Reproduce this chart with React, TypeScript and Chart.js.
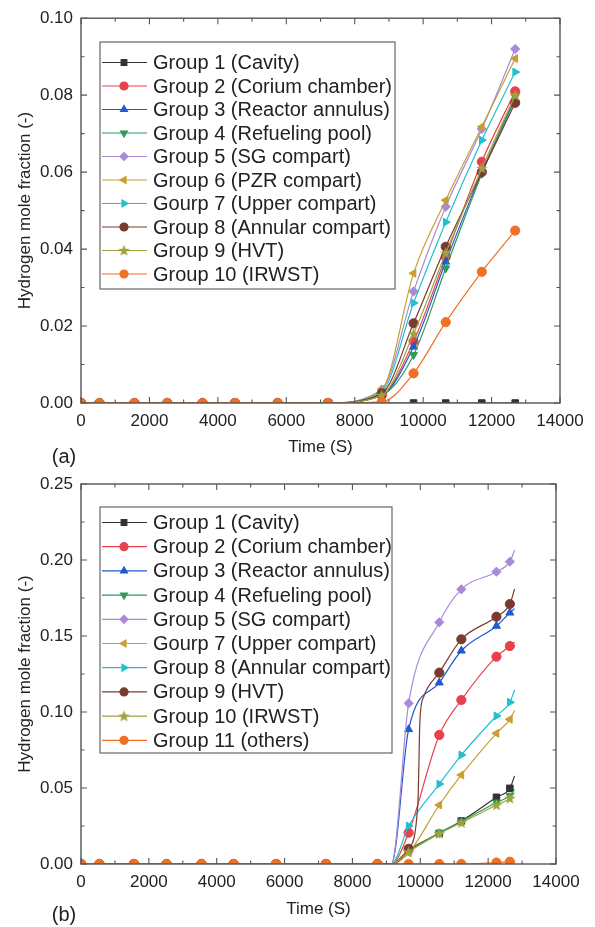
import React, { useEffect, useRef } from 'react';
import { Chart, registerables } from 'chart.js';
import { drawPoint } from 'chart.js/helpers';

Chart.register(...registerables);

const FONT = '"Liberation Sans", Arial, Helvetica, sans-serif';

// ---------- shared tick labels ----------
const xTickLabels = [0, 2000, 4000, 6000, 8000, 10000, 12000, 14000];
const yTickLabelsA = [0, 0.02, 0.04, 0.06, 0.08, 0.1];
const yTickLabelsB = [0, 0.05, 0.1, 0.15, 0.2, 0.25];

// ---------- panel (a) ----------
const namesA = [
  'Group 1 (Cavity)',
  'Group 2 (Corium chamber)',
  'Group 3 (Reactor annulus)',
  'Group 4 (Refueling pool)',
  'Group 5 (SG compart)',
  'Group 6 (PZR compart)',
  'Gourp 7 (Upper compart)',
  'Group 8 (Annular compart)',
  'Group 9 (HVT)',
  'Group 10 (IRWST)',
];
const timesA = [0, 540, 1560, 2520, 3550, 4500, 5750, 7220, 8790, 9720, 10660, 11715, 12690];
const a1 = [0, 0, 0, 0, 0, 0, 0, 0, 0, 0, 0, 0, 0];
const a2 = [0, 0, 0, 0, 0, 0, 0, 0, 0.002, 0.016, 0.038, 0.0627, 0.081];
const a3 = [0, 0, 0, 0, 0, 0, 0, 0, 0.002, 0.0146, 0.0367, 0.06, 0.079];
const a4 = [0, 0, 0, 0, 0, 0, 0, 0, 0.002, 0.0125, 0.035, 0.0596, 0.0796];
const a5 = [0, 0, 0, 0, 0, 0, 0, 0, 0.0035, 0.029, 0.051, 0.0712, 0.092];
const a6 = [0, 0, 0, 0, 0, 0, 0, 0, 0.0035, 0.0337, 0.0527, 0.0718, 0.0895];
const a7 = [0, 0, 0, 0, 0, 0, 0, 0, 0.003, 0.026, 0.047, 0.0683, 0.086];
const a8 = [0, 0, 0, 0, 0, 0, 0, 0, 0.0025, 0.0207, 0.0406, 0.06, 0.078];
const a9 = [0, 0, 0, 0, 0, 0, 0, 0, 0.002, 0.018, 0.039, 0.061, 0.08];
const a10 = [0, 0, 0, 0, 0, 0, 0, 0, 0.0003, 0.0077, 0.021, 0.0341, 0.0448];
const valuesA = [a1, a2, a3, a4, a5, a6, a7, a8, a9, a10];

// ---------- panel (b) ----------
const namesB = [
  'Group 1 (Cavity)',
  'Group 2 (Corium chamber)',
  'Group 3 (Reactor annulus)',
  'Group 4 (Refueling pool)',
  'Group 5 (SG compart)',
  'Gourp 7 (Upper compart)',
  'Group 8 (Annular compart)',
  'Group 9 (HVT)',
  'Group 10 (IRWST)',
  'Group 11 (others)',
];
const timesB = [0, 540, 1560, 2520, 3550, 4500, 5750, 7220, 8740, 9150, 9656, 10560, 11210, 12245, 12640, 12780];
const markerTimesB = [0, 540, 1560, 2520, 3550, 4500, 5750, 7220, 8740, 9656, 10560, 11210, 12245, 12640];
const b1 = [0, 0, 0, 0, 0, 0, 0, 0, 0, 0, 0.0092, 0.0202, 0.0283, 0.0439, 0.0498, 0.058];
const b2 = [0, 0, 0, 0, 0, 0, 0, 0, 0, 0, 0.0206, 0.0849, 0.1079, 0.1364, 0.1434, 0.146];
const b3 = [0, 0, 0, 0, 0, 0, 0, 0, 0, 0, 0.0886, 0.1193, 0.1403, 0.1566, 0.1653, 0.168];
const b4 = [0, 0, 0, 0, 0, 0, 0, 0, 0, 0, 0.0085, 0.0205, 0.028, 0.0405, 0.045, 0.049];
const b5 = [0, 0, 0, 0, 0, 0, 0, 0, 0, 0, 0.1057, 0.159, 0.1807, 0.1923, 0.1989, 0.2066];
const b7 = [0, 0, 0, 0, 0, 0, 0, 0, 0, 0, 0.0074, 0.0388, 0.0586, 0.086, 0.0952, 0.101];
const b8 = [0, 0, 0, 0, 0, 0, 0, 0, 0, 0, 0.025, 0.0526, 0.0717, 0.0974, 0.1064, 0.1145];
const b9 = [0, 0, 0, 0, 0, 0, 0, 0, 0, 0, 0.01, 0.1259, 0.1478, 0.1627, 0.171, 0.181];
const b10 = [0, 0, 0, 0, 0, 0, 0, 0, 0, 0, 0.008, 0.02, 0.0272, 0.0388, 0.0432, 0.047];
const b11 = [0, 0, 0, 0, 0, 0, 0, 0, 0, 0, 0, 0, 0, 0.001, 0.0015, 0.002];
// extra (unmarked) samples on the steep rise of Group 9 (HVT)
const b9ExtraTimes = [9930, 9990, 10100];
const b9ExtraValues = [0.04, 0.095, 0.11];
const valuesB = [b1, b2, b3, b4, b5, b7, b8, b9, b10, b11];

// ---------- styles ----------
const COLORS = ['#333333', '#e8404c', '#1f5ad0', '#2e9a5a', '#a98ad8', '#c8a030', '#22bfd0', '#7a3a2e', '#a0a240', '#f07024'];

function makeStar(color: string) {
  const c = document.createElement('canvas');
  c.width = 13;
  c.height = 13;
  const g = c.getContext('2d')!;
  g.fillStyle = color;
  g.beginPath();
  for (let i = 0; i < 10; i++) {
    const r = i % 2 === 0 ? 6 : 2.6;
    const a = -Math.PI / 2 + (i * Math.PI) / 5;
    const px = 6.5 + r * Math.cos(a);
    const py = 6.8 + r * Math.sin(a);
    if (i === 0) g.moveTo(px, py);
    else g.lineTo(px, py);
  }
  g.closePath();
  g.fill();
  return c;
}

type Sty = { style: any; rot: number };
function markerStyles(): Sty[] {
  return [
    { style: 'rect', rot: 0 },
    { style: 'circle', rot: 0 },
    { style: 'triangle', rot: 0 },
    { style: 'triangle', rot: 180 },
    { style: 'rectRot', rot: 0 },
    { style: 'triangle', rot: -90 },
    { style: 'triangle', rot: 90 },
    { style: 'circle', rot: 0 },
    { style: makeStar(COLORS[8]), rot: 0 },
    { style: 'circle', rot: 0 },
  ];
}

function framePlugin(xMinor: number, xMajor: number, yMinor: number, yMajor: number, panel: string, panelX: number, panelY: number) {
  return {
    id: 'frame',
    afterDatasetsDraw(chart: any) {
      const { ctx, chartArea } = chart;
      const { left, right, top, bottom } = chartArea;
      const xs = chart.scales.x;
      const ys = chart.scales.y;
      ctx.save();
      ctx.strokeStyle = '#555';
      ctx.lineWidth = 1.4;
      ctx.strokeRect(left, top, right - left, bottom - top);
      ctx.lineWidth = 1.1;
      ctx.beginPath();
      for (let t = xs.min; t <= xs.max + 1e-9; t += xMinor) {
        const px = xs.getPixelForValue(t);
        const major = Math.abs(t / xMajor - Math.round(t / xMajor)) < 1e-6;
        const len = major ? 6 : 3.5;
        ctx.moveTo(px, bottom);
        ctx.lineTo(px, bottom - len);
        ctx.moveTo(px, top);
        ctx.lineTo(px, top + len);
      }
      const steps = Math.round((ys.max - ys.min) / yMinor);
      for (let k = 0; k <= steps; k++) {
        const v = ys.min + k * yMinor;
        const py = ys.getPixelForValue(v);
        const major = Math.abs(v / yMajor - Math.round(v / yMajor)) < 1e-6;
        const len = major ? 6 : 3.5;
        ctx.moveTo(left, py);
        ctx.lineTo(left + len, py);
        ctx.moveTo(right, py);
        ctx.lineTo(right - len, py);
      }
      ctx.stroke();
      ctx.fillStyle = '#222';
      ctx.font = `20px ${FONT}`;
      ctx.textAlign = 'center';
      ctx.textBaseline = 'middle';
      ctx.fillText(panel, panelX, panelY);
      ctx.restore();
    },
  };
}

function legendPlugin(box: { x: number; y: number; w: number; h: number }, row0: number, step: number) {
  return {
    id: 'boxLegend',
    afterDraw(chart: any) {
      const ctx = chart.ctx;
      ctx.save();
      ctx.fillStyle = '#fff';
      ctx.fillRect(box.x, box.y, box.w, box.h);
      ctx.strokeStyle = '#666';
      ctx.lineWidth = 1.2;
      ctx.strokeRect(box.x, box.y, box.w, box.h);
      chart.data.datasets.forEach((ds: any, i: number) => {
        const y = row0 + i * step;
        ctx.strokeStyle = ds.borderColor;
        ctx.lineWidth = 1.2;
        ctx.beginPath();
        ctx.moveTo(box.x + 2, y);
        ctx.lineTo(box.x + 47, y);
        ctx.stroke();
        ctx.fillStyle = ds.borderColor;
        drawPoint(ctx, { pointStyle: ds.pointStyle, rotation: ds.pointRotation, radius: 4, borderWidth: 1 } as any, box.x + 24, y);
        ctx.fillStyle = '#222';
        ctx.font = `20px ${FONT}`;
        ctx.textAlign = 'left';
        ctx.textBaseline = 'middle';
        ctx.fillText(ds.label, box.x + 53, y + 1);
      });
      ctx.restore();
    },
  };
}

function makeDataset(label: string, pts: { x: number; y: number }[], color: string, sty: Sty, markers: Set<number>, order: number) {
  return {
    label,
    data: pts,
    borderColor: color,
    backgroundColor: color,
    borderWidth: 1.2,
    pointStyle: sty.style,
    pointRotation: sty.rot,
    pointRadius: (c: any) => (c.raw && !markers.has(c.raw.x) ? 0 : 4.6),
    pointHoverRadius: 0,
    pointBorderWidth: 1,
    pointBorderColor: color,
    pointBackgroundColor: color,
    cubicInterpolationMode: 'monotone',
    clip: { left: 0, right: 0, top: 0, bottom: 0 },
    order,
  };
}

function axes(yTicks: number[], yMax: number, xHeight: number, titleBottom: number) {
  const tickFont = { family: FONT, size: 17 };
  return {
    x: {
      type: 'linear',
      min: 0,
      max: 14000,
      afterBuildTicks: (s: any) => {
        s.ticks = xTickLabels.map((v) => ({ value: v }));
      },
      afterFit: (s: any) => {
        s.height = xHeight;
      },
      grid: { display: false, drawTicks: false },
      border: { display: false },
      ticks: { font: tickFont, color: '#222', padding: 8, autoSkip: false, maxRotation: 0, callback: (v: any) => String(v) },
      title: { display: true, text: 'Time (S)', font: tickFont, color: '#222', padding: { top: 0, bottom: titleBottom } },
    },
    y: {
      type: 'linear',
      min: 0,
      max: yMax,
      afterBuildTicks: (s: any) => {
        s.ticks = yTicks.map((v) => ({ value: v }));
      },
      afterFit: (s: any) => {
        s.width = 81;
      },
      grid: { display: false, drawTicks: false },
      border: { display: false },
      ticks: { font: tickFont, color: '#222', padding: 8, autoSkip: false, callback: (v: any) => Number(v).toFixed(2) },
      title: { display: true, text: 'Hydrogen mole fraction (-)', font: tickFont, color: '#222', padding: { top: 15, bottom: 0 } },
    },
  };
}

const HA = 472; // canvas height of panel (a)
const HB = 464; // canvas height of panel (b)

function configA() {
  const sty = markerStyles();
  const markers = new Set(timesA);
  const datasets = valuesA.map((vals, i) =>
    makeDataset(namesA[i], timesA.map((t, k) => ({ x: t, y: vals[k] })), COLORS[i], sty[i], markers, valuesA.length - i)
  );
  return {
    type: 'line',
    data: { datasets },
    options: {
      animation: false,
      responsive: false,
      devicePixelRatio: 1,
      layout: { padding: { left: 0, right: 35, top: 18, bottom: 0 } },
      plugins: { legend: { display: false }, tooltip: { enabled: false } },
      scales: axes(yTickLabelsA, 0.1, HA - 403, 5 + (HA - 463)),
    },
    plugins: [framePlugin(1000, 2000, 0.01, 0.02, '(a)', 64, 457), legendPlugin({ x: 100, y: 42, w: 295, h: 247 }, 62.5, 23.5)],
  };
}

function configB() {
  const sty = markerStyles();
  const markers = new Set(markerTimesB);
  const datasets = valuesB.map((vals, i) => {
    let pts = timesB.map((t, k) => ({ x: t, y: vals[k] }));
    if (vals === b9) {
      pts = pts.concat(b9ExtraTimes.map((t, k) => ({ x: t, y: b9ExtraValues[k] }))).sort((p, q) => p.x - q.x);
    }
    return makeDataset(namesB[i], pts, COLORS[i], sty[i], markers, valuesB.length - i);
  });
  return {
    type: 'line',
    data: { datasets },
    options: {
      animation: false,
      responsive: false,
      devicePixelRatio: 1,
      layout: { padding: { left: 0, right: 39, top: 21, bottom: 0 } },
      plugins: { legend: { display: false }, tooltip: { enabled: false } },
      scales: axes(yTickLabelsB, 0.25, HB - 401, 7),
    },
    plugins: [framePlugin(1000, 2000, 0.025, 0.05, '(b)', 64, 452), legendPlugin({ x: 100, y: 44, w: 292, h: 246 }, 59.5, 24.2)],
  };
}

function Panel({ make, top, height }: { make: () => any; top: number; height: number }) {
  const ref = useRef<HTMLCanvasElement>(null);
  useEffect(() => {
    const chart = new Chart(ref.current as HTMLCanvasElement, make());
    return () => chart.destroy();
  }, []);
  return (
    <canvas
      ref={ref}
      width={595}
      height={height}
      style={{ position: 'absolute', left: 0, top, width: 595, height, display: 'block' }}
    />
  );
}

export default function App() {
  return (
    <div style={{ position: 'absolute', left: 0, top: 0, width: 595, height: 927, background: '#fff' }}>
      <Panel make={configA} top={0} height={HA} />
      <Panel make={configB} top={463} height={HB} />
    </div>
  );
}
